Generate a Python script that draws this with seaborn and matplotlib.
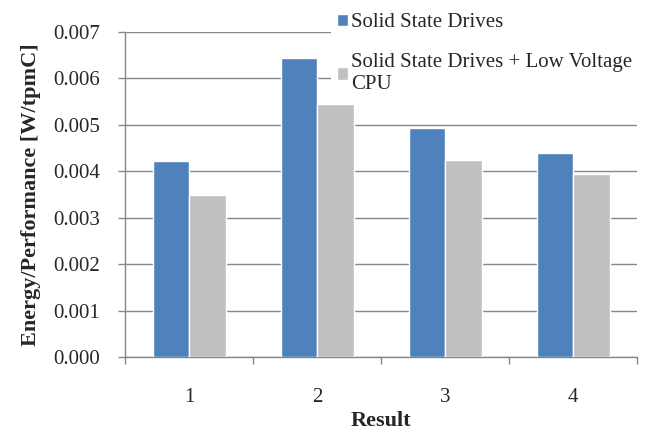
import pandas as pd
import seaborn as sns
import matplotlib.pyplot as plt

# values
results = ['1', '2', '3', '4']
ssd = [0.00423, 0.00645, 0.00493, 0.00440]
ssd_lv = [0.00349, 0.00545, 0.00424, 0.00395]
series = ['Solid State Drives', 'Solid State Drives + Low Voltage\nCPU']
y_ticks = [0.000, 0.001, 0.002, 0.003, 0.004, 0.005, 0.006, 0.007]

df = pd.DataFrame({
    'Result': results * 2,
    'Value': ssd + ssd_lv,
    'Series': [series[0]] * 4 + [series[1]] * 4,
})

sns.set_style('white')
plt.rcParams['font.family'] = ['Liberation Serif', 'DejaVu Serif']

fig = plt.figure(figsize=(6.45, 4.33), dpi=100)
ax = fig.add_axes([0.194, 0.1755, 0.794, 0.7505])

sns.barplot(data=df, x='Result', y='Value', hue='Series',
            palette=['#4f81bd', '#c0c0c0'], width=0.57, saturation=1,
            ax=ax, zorder=3)

ax.set_ylim(0, 0.007)
ax.set_xlim(-0.5, 3.5)
ax.set_yticks(y_ticks)
ax.set_yticklabels([f'{t:.3f}' for t in y_ticks], fontsize=15)
ax.tick_params(axis='y', length=5, color='#868686', width=1, left=True, pad=13)
ax.tick_params(axis='x', length=0, labelsize=15, pad=22)
ax.set_xticks([-0.5, 0.5, 1.5, 2.5, 3.5], minor=True)
ax.tick_params(axis='x', which='minor', length=5, color='#868686', width=1, bottom=True)

ax.yaxis.grid(True, color='#868686', linewidth=1, zorder=0)
ax.set_axisbelow(True)
for s in ['top', 'right']:
    ax.spines[s].set_visible(False)
for s in ['left', 'bottom']:
    ax.spines[s].set_color('#868686')
    ax.spines[s].set_linewidth(1)

ax.set_xlabel('Result', fontsize=16, fontweight='bold', labelpad=3)
ax.set_ylabel('Energy/Performance [W/tpmC]', fontsize=16, fontweight='bold', labelpad=9)

ax.legend(loc='upper left', bbox_to_anchor=(321 / 645, 1.005), bbox_transform=fig.transFigure,
          fontsize=15, frameon=True, facecolor='white', edgecolor='none', framealpha=1,
          fancybox=False, handlelength=0.55, handleheight=0.55, handletextpad=0.15,
          labelspacing=1.0, borderpad=0.25, title=None)

fig.savefig('out.png', dpi=100)
